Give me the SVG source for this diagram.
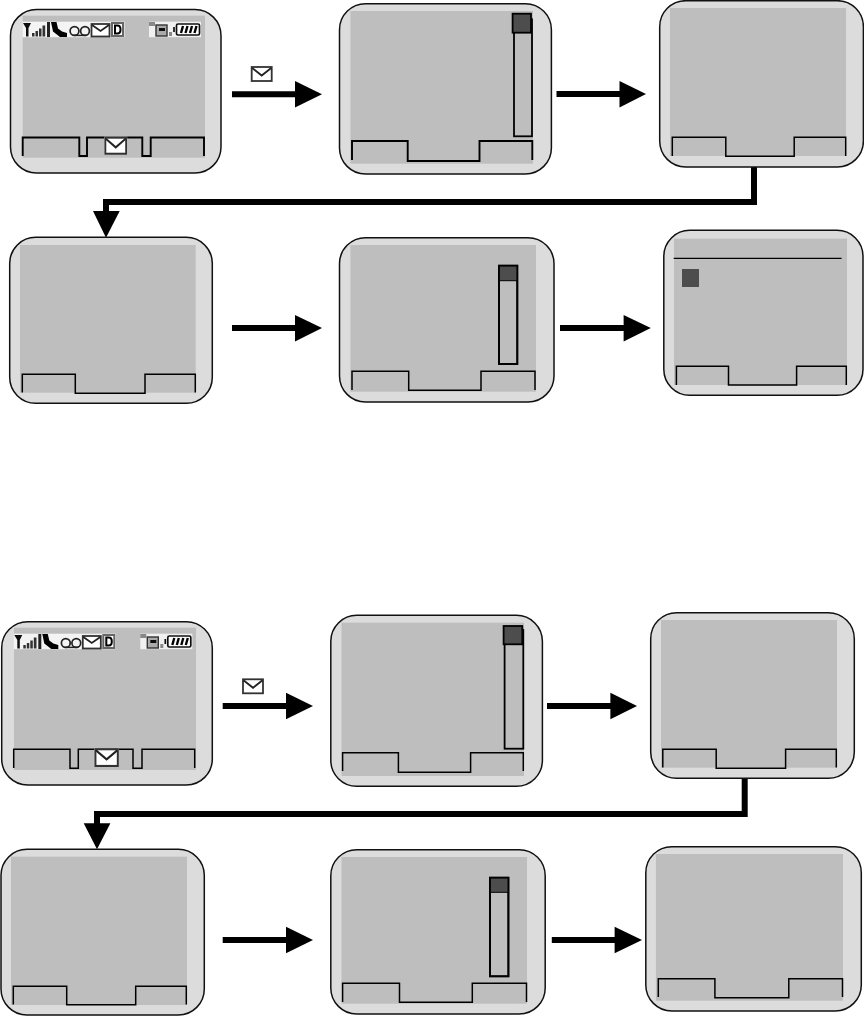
<svg xmlns="http://www.w3.org/2000/svg" width="864" height="1016" viewBox="0 0 864 1016">
<style>
.body{fill:#dcdcdc;stroke:#111;stroke-width:1.5}
.screen{fill:#bebebe}
.keys{fill:none;stroke:#000;stroke-width:1.5;stroke-linejoin:miter}
.keys2{fill:none;stroke:#000;stroke-width:1.9;stroke-linejoin:miter}
.scroll{fill:#bebebe;stroke:#000;stroke-width:1.8}
.thumb{fill:#4d4d4d;stroke:#000;stroke-width:1.8}
.thumbflat{fill:#4d4d4d}
.rule{stroke:#000;stroke-width:1.3;fill:none}
.conn{fill:none;stroke:#000;stroke-width:6;stroke-linejoin:miter}
.head{fill:#000}
.env{fill:#fff;stroke:#333;stroke-width:1.8}
.flap{fill:none;stroke:#222;stroke-width:1.8}
</style>
<defs>
<filter id="soft" x="-5%" y="-10%" width="110%" height="120%"><feGaussianBlur stdDeviation="0.4"/></filter>
<g id="mail" filter="url(#soft)">
<rect x="0" y="0" width="22" height="16" fill="#f4f4f4"/>
<rect class="env" x="1" y="1" width="20" height="14"/>
<path class="flap" d="M1.500 2L11 9.500L20.500 2"/>
</g>
<g id="status" filter="url(#soft)">
<rect x="22.500" y="21.700" width="102" height="15.500" fill="#f4f4f4"/>
<rect x="149" y="21.700" width="52" height="15.500" fill="#f0f0f0"/>
<path d="M23 23H31L28.500 28V36.500H26V28Z" fill="#111"/>
<path d="M32 33h2.500v3.500H32zM35.500 31h2.500v5.500h-2.500zM39 28.500h2.500v8H39zM42.500 25.500h2.700v11h-2.700z" fill="#333"/>
<rect x="47" y="22" width="3" height="15" fill="#222"/>
<path d="M51 22H56.500L58 28.500L62 31.500L67 33V37H60L53 31.500Z" fill="#000"/>
<circle cx="74.500" cy="31" r="4.400" fill="none" stroke="#222" stroke-width="1.700"/>
<circle cx="85" cy="31" r="4.400" fill="none" stroke="#222" stroke-width="1.700"/>
<path d="M74 35.400H86" stroke="#222" stroke-width="1.500"/>
<rect class="env" x="91.500" y="24" width="18" height="12.500"/>
<path class="flap" d="M92 25L100.500 31L109 25"/>
<rect x="111" y="22" width="13" height="15" fill="#666"/>
<rect x="113" y="24" width="9" height="11" fill="#fff"/>
<path d="M115 25.500H117.500Q120.500 25.500 120.500 29.500Q120.500 33.500 117.500 33.500H115Z" fill="#fff" stroke="#000" stroke-width="2"/>
<rect x="149" y="22" width="6" height="4" fill="#888"/>
<rect x="156" y="25" width="11" height="11" fill="#aaa" stroke="#333" stroke-width="1.400"/>
<rect x="159" y="28" width="6" height="3" fill="#111"/>
<rect x="169" y="32" width="3" height="4" fill="#888"/>
<rect x="176.500" y="24" width="23" height="11" rx="1.500" fill="#fff" stroke="#111" stroke-width="1.700"/>
<path d="M174 27v5" stroke="#111" stroke-width="1.700"/>
<path d="M181 33L183 26M185.500 33L187.500 26M190 33L192 26M194.500 33L196.500 26" stroke="#000" stroke-width="2.400"/>
</g>
</defs>

<g id="connectors">
<path class="conn" d="M232 94.300H296"/><path class="head" d="M295 81L322 94.300L295 107.600Z"/>
<path class="conn" d="M556.500 94H620"/><path class="head" d="M619.500 81L646 94L619.500 107.500Z"/>
<path class="conn" d="M754 166V202H106V212"/><path class="head" d="M93 211H119.700L106 237.700Z"/>
<path class="conn" d="M232 328H296"/><path class="head" d="M295 315L322 328L295 341.500Z"/>
<path class="conn" d="M560 328H624"/><path class="head" d="M623.600 315L650.800 328L623.600 341.500Z"/>
<path class="conn" d="M222.700 706H287"/><path class="head" d="M286 692.700L313 706L286 719.300Z"/>
<path class="conn" d="M547 706H611"/><path class="head" d="M610.400 692.700L637 706L610.400 719.300Z"/>
<path class="conn" d="M744.700 778V814H97V824"/><path class="head" d="M83.700 823.300H110.400L97 849.300Z"/>
<path class="conn" d="M222.700 940H287"/><path class="head" d="M286 926.700L313 940L286 953.300Z"/>
<path class="conn" d="M551.800 940H615"/><path class="head" d="M614.600 926.700L642 940L614.600 953.300Z"/>
</g>

<g id="arrow-label-top"><use href="#mail" x="250.700" y="66"/></g>
<g id="arrow-label-bottom"><use href="#mail" x="242" y="678.300"/></g>

<g id="phone-1">
<rect class="body" x="10.500" y="9.500" width="210.500" height="163.500" rx="26"/>
<rect class="screen" x="22.700" y="15.700" width="182.300" height="142"/>
<use href="#status"/>
<path class="keys2" d="M22.700 156V137.500H79.300V156H87V137.500H142.300V156H150.700V137.500H204V156"/>
<use href="#mail" transform="translate(104.300 136.500) scale(1.040 1.150)"/>
</g>

<g id="phone-2">
<rect class="body" x="339.500" y="3.700" width="211.900" height="170.300" rx="26"/>
<rect class="screen" x="350.400" y="11" width="182.600" height="152.700"/>
<rect class="scroll" x="514" y="19.300" width="18" height="117"/>
<rect class="thumb" x="512.600" y="13.700" width="18.400" height="19"/>
<path class="keys2" d="M352 160V141H407.700V161H479.500V141H532.300V160"/>
</g>

<g id="phone-3">
<rect class="body" x="659.700" y="0.700" width="203.700" height="166.300" rx="26"/>
<rect class="screen" x="670" y="8" width="176" height="148"/>
<path class="keys" d="M672.300 156V137.300H725.800V156.300H794.200V137.300H845.700V156"/>
</g>

<g id="phone-4">
<rect class="body" x="9.700" y="237.300" width="202.600" height="166" rx="26"/>
<rect class="screen" x="20" y="245" width="175.700" height="147.700"/>
<path class="keys" d="M22.300 392.500V374.300H75.300V393.300H145V374.300H195.300V392.500"/>
</g>

<g id="phone-5">
<rect class="body" x="339.500" y="237.700" width="214.500" height="164.300" rx="26"/>
<rect class="screen" x="350.400" y="245" width="185.600" height="146.700"/>
<rect class="scroll" x="499" y="265.700" width="18.300" height="98.300"/>
<rect class="thumbflat" x="499" y="265.700" width="18.300" height="15"/>
<path d="M499 280.700H517.300" stroke="#000" stroke-width="1"/>
<rect x="499" y="265.700" width="18.300" height="98.300" fill="none" stroke="#000" stroke-width="1.800"/>
<path class="keys" d="M352 390V371.300H408.700V390.300H481V371.300H535V390"/>
</g>

<g id="phone-6">
<rect class="body" x="663.800" y="230.300" width="199.200" height="165" rx="26"/>
<rect class="screen" x="674" y="238.700" width="173" height="146.300"/>
<path class="rule" d="M673.700 258.300H841.600"/>
<rect class="thumbflat" x="682" y="269" width="17" height="18"/>
<path class="keys" d="M676.400 385V366.300H728.500V385H796.600V366.300H846.300V385"/>
</g>

<g id="phone-7">
<rect class="body" x="1.700" y="621.700" width="210.600" height="163.300" rx="26"/>
<rect class="screen" x="14" y="627.700" width="182" height="142.300"/>
<use href="#status" transform="translate(-8.700 612)"/>
<path class="keys" d="M13.700 768V749.300H70V768.300H78.300V749.300H133V768.300H142V749.300H194.700V768"/>
<use href="#mail" transform="translate(94.300 748) scale(1.120 1.200)"/>
</g>

<g id="phone-8">
<rect class="body" x="330.800" y="615.300" width="211.600" height="171" rx="26"/>
<rect class="screen" x="341.500" y="622.700" width="182.500" height="153.300"/>
<rect class="scroll" x="504.600" y="630" width="18.700" height="118.700"/>
<rect class="thumb" x="503.600" y="626" width="18.700" height="18.300"/>
<path class="keys" d="M342.600 771V752.700H398.400V772.300H470.600V752.700H523.300V771"/>
</g>

<g id="phone-9">
<rect class="body" x="650.700" y="612.700" width="203.600" height="165.600" rx="26"/>
<rect class="screen" x="661" y="620" width="176" height="147.700"/>
<path class="keys" d="M662.800 767.500V749.300H716.200V768.300H785.600V749.300H836.300V767.500"/>
</g>

<g id="phone-10">
<rect class="body" x="1" y="849.300" width="203.300" height="165.700" rx="26"/>
<rect class="screen" x="11" y="856.700" width="176" height="148.300"/>
<path class="keys" d="M13.300 1004.500V986.300H66.700V1004.700H135.700V986.300H186.300V1004.500"/>
</g>

<g id="phone-11">
<rect class="body" x="330.800" y="849.700" width="214.400" height="164.300" rx="26"/>
<rect class="screen" x="341.500" y="857" width="185.500" height="146.700"/>
<rect class="scroll" x="490" y="877.700" width="18.400" height="98.600"/>
<rect class="thumbflat" x="490" y="877.700" width="18.400" height="14.600"/>
<path d="M490 892.300H508.400" stroke="#000" stroke-width="1"/>
<rect x="490" y="877.700" width="18.400" height="98.600" fill="none" stroke="#000" stroke-width="1.800"/>
<path class="keys" d="M342.600 1002V983.300H399.500V1002.300H472.300V983.300H526.500V1002"/>
</g>

<g id="phone-12">
<rect class="body" x="645.800" y="846.700" width="215.500" height="164.300" rx="26"/>
<rect class="screen" x="655.900" y="854" width="187.100" height="146.700"/>
<path class="keys" d="M658.300 997V978.700H714.900V997.700H788.800V978.700H842.500V997"/>
</g>
</svg>
